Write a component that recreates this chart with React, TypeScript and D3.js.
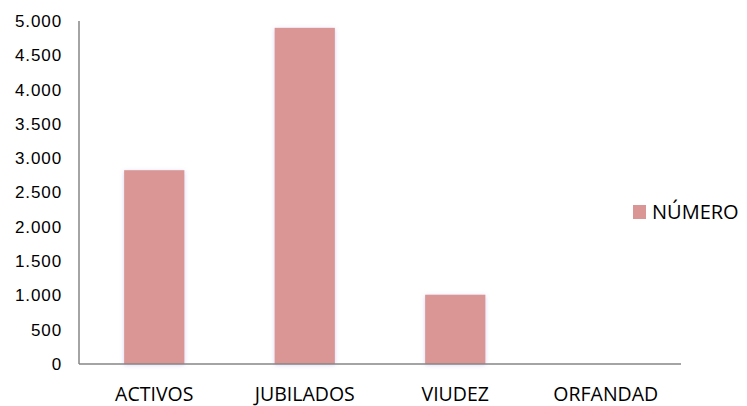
import React from "react";
import * as d3 from "d3";

const categories = ["ACTIVOS", "JUBILADOS", "VIUDEZ", "ORFANDAD"];
const values = [2825, 4900, 1010, 0];
const yTicks = [0, 500, 1000, 1500, 2000, 2500, 3000, 3500, 4000, 4500, 5000];
const seriesName = "NÚMERO";

const W = 747;
const H = 406;
const left = 79;
const right = 681;
const top = 21;
const bottom = 364;

export default function App() {
  const x = d3.scaleBand<string>().domain(categories).range([left, right]).paddingInner(0.6).paddingOuter(0.3);
  const y = d3.scaleLinear().domain([0, 5000]).range([bottom, top]);
  const fmt = (v: number) => d3.format(",")(v).replace(/,/g, ".");
  return (
    <svg width={W} height={H} style={{ position: "absolute", left: 0, top: 0, background: "#fff" }}>
      <defs>
        <filter id="sh" x="-30%" y="-10%" width="160%" height="120%">
          <feDropShadow dx="0" dy="1" stdDeviation="2" floodColor="#8a7fd8" floodOpacity="0.35" />
        </filter>
      </defs>
      {categories.map((c, i) =>
        values[i] > 0 ? (
          <rect key={c} x={x(c)} y={y(values[i])} width={x.bandwidth()} height={bottom - y(values[i])} fill="#D99694" filter="url(#sh)" />
        ) : null
      )}
      <line x1={left} x2={left} y1={top} y2={bottom} stroke="#868686" strokeWidth={1.5} />
      <line x1={left} x2={right} y1={bottom} y2={bottom} stroke="#868686" strokeWidth={1.5} />
      {yTicks.map((t) => (
        <text key={t} x={62} y={y(t)} dy="0.35em" textAnchor="end" fontFamily="Liberation Sans, Arial, sans-serif" fontSize={17} letterSpacing={0.9} fill="#000">
          {fmt(t)}
        </text>
      ))}
      {categories.map((c) => (
        <text key={c} x={(x(c) as number) + x.bandwidth() / 2} y={401} textAnchor="middle" fontFamily="Open Sans, sans-serif" fontSize={19.5} fill="#000">
          {c}
        </text>
      ))}
      <rect x={633} y={205} width={13} height={14} fill="#D99694" />
      <text x={652} y={218.5} fontFamily="Open Sans, sans-serif" fontSize={20} fill="#000">
        {seriesName}
      </text>
    </svg>
  );
}
